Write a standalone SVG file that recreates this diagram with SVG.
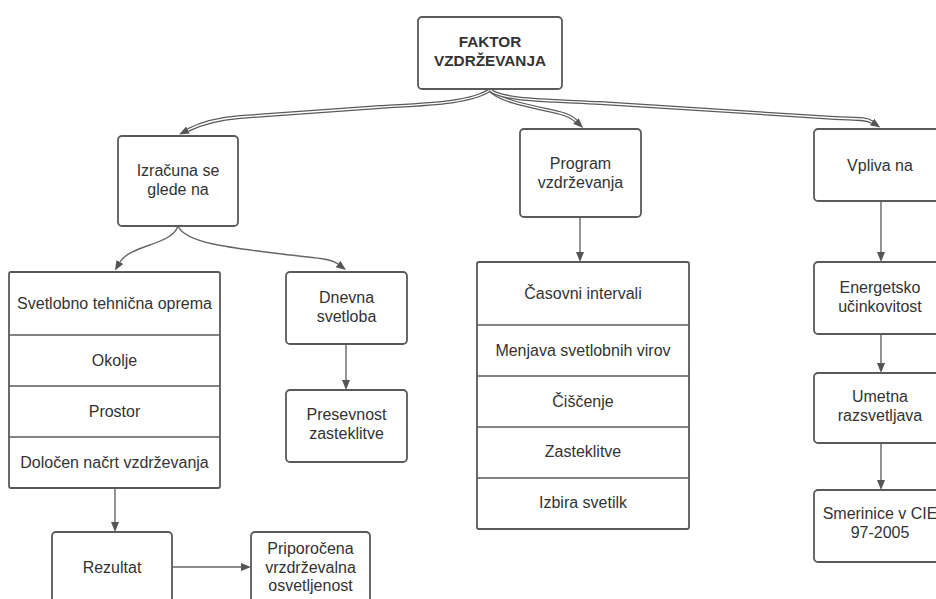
<svg xmlns="http://www.w3.org/2000/svg" width="936" height="599" viewBox="0 0 936 599">
  <style>
    .box { fill: #ffffff; stroke: #5a5a5a; stroke-width: 1.8; }
    .div { stroke: #5a5a5a; stroke-width: 1.5; fill: none; }
    .t { font-family: "Liberation Sans", Arial, sans-serif; font-size: 16px; fill: #333333; text-anchor: middle; }
    .tb { font-family: "Liberation Sans", Arial, sans-serif; font-size: 15.3px; font-weight: bold; fill: #333333; text-anchor: middle; }
    .line { fill: none; stroke: #666666; stroke-width: 1.4; }
    .dbl-out { fill: none; stroke: #5a5a5a; stroke-width: 3.8; }
    .dbl-in { fill: none; stroke: #ffffff; stroke-width: 1.3; }
  </style>
  <defs>
    <marker id="ah" markerUnits="userSpaceOnUse" markerWidth="12" markerHeight="10" refX="0" refY="4" orient="auto">
      <path d="M0,0 L10,4 L0,8 z" fill="#555555"/>
    </marker>
  </defs>
  <rect width="936" height="599" fill="#ffffff"/>

  <g id="connectors">
    <!-- double (hollow) lines leaving the root -->
    <path class="dbl-out" marker-end="url(#ah)" d="M490,90 C470,103 430,104 380,107 L240,117 C215,119 200,124 188,130"/>
    <path class="dbl-in" d="M490,90 C470,103 430,104 380,107 L240,117 C215,119 200,124 188,130"/>
    <path class="dbl-out" marker-end="url(#ah)" d="M490,90 C500,102 540,108 560,113 C568,115 572,117 576,121"/>
    <path class="dbl-in" d="M490,90 C500,102 540,108 560,113 C568,115 572,117 576,121"/>
    <path class="dbl-out" marker-end="url(#ah)" d="M490,90 C502,100 540,100 600,103 L835,118 C855,119 866,118 872,122"/>
    <path class="dbl-in" d="M490,90 C502,100 540,100 600,103 L835,118 C855,119 866,118 872,122"/>

    <!-- single lines -->
    <path class="line" marker-end="url(#ah)" d="M178,226 C172,245 130,245 120,262"/>
    <path class="line" marker-end="url(#ah)" d="M178,226 C185,243 230,248 290,255 C315,258 330,258 338,264"/>
    <path class="line" marker-end="url(#ah)" d="M346,344 L346,380"/>
    <path class="line" marker-end="url(#ah)" d="M580,217 L580,252"/>
    <path class="line" marker-end="url(#ah)" d="M881,201 L881,252"/>
    <path class="line" marker-end="url(#ah)" d="M881,334 L881,363"/>
    <path class="line" marker-end="url(#ah)" d="M881,443 L881,480"/>
    <path class="line" marker-end="url(#ah)" d="M115,488 L115,522"/>
    <path class="line" marker-end="url(#ah)" d="M172,567 L241,567"/>
  </g>

  <g id="faktor">
    <rect class="box" x="418" y="17" width="144" height="72" rx="4"/>
    <text class="tb" x="490" y="46.5">FAKTOR</text>
    <text class="tb" x="490" y="65.5">VZDRŽEVANJA</text>
  </g>

  <g id="izracuna">
    <rect class="box" x="118" y="136" width="120" height="90" rx="4"/>
    <text class="t" x="178" y="176">Izračuna se</text>
    <text class="t" x="178" y="195">glede na</text>
  </g>

  <g id="program">
    <rect class="box" x="520" y="129" width="121" height="88" rx="4"/>
    <text class="t" x="580.5" y="169">Program</text>
    <text class="t" x="580.5" y="188">vzdrževanja</text>
  </g>

  <g id="vpliva">
    <rect class="box" x="814" y="129" width="134" height="72" rx="4"/>
    <text class="t" x="880" y="170.5">Vpliva na</text>
  </g>

  <g id="seznam-izracun">
    <rect class="box" x="9" y="272" width="211" height="216" rx="2"/>
    <line class="div" x1="9" y1="335" x2="220" y2="335"/>
    <line class="div" x1="9" y1="386" x2="220" y2="386"/>
    <line class="div" x1="9" y1="437" x2="220" y2="437"/>
    <text class="t" x="114.5" y="308.5">Svetlobno tehnična oprema</text>
    <text class="t" x="114.5" y="365.5">Okolje</text>
    <text class="t" x="114.5" y="416.5">Prostor</text>
    <text class="t" x="114.5" y="467.5">Določen načrt vzdrževanja</text>
  </g>

  <g id="dnevna">
    <rect class="box" x="286" y="272" width="121" height="72" rx="4"/>
    <text class="t" x="346.5" y="302.5">Dnevna</text>
    <text class="t" x="346.5" y="321.5">svetloba</text>
  </g>

  <g id="presevnost">
    <rect class="box" x="286" y="390" width="121" height="72" rx="4"/>
    <text class="t" x="346.5" y="419.5">Presevnost</text>
    <text class="t" x="346.5" y="438.5">zasteklitve</text>
  </g>

  <g id="seznam-program">
    <rect class="box" x="477" y="262" width="212" height="267" rx="2"/>
    <line class="div" x1="477" y1="325" x2="689" y2="325"/>
    <line class="div" x1="477" y1="376" x2="689" y2="376"/>
    <line class="div" x1="477" y1="427" x2="689" y2="427"/>
    <line class="div" x1="477" y1="478" x2="689" y2="478"/>
    <text class="t" x="583" y="298.5">Časovni intervali</text>
    <text class="t" x="583" y="355.5">Menjava svetlobnih virov</text>
    <text class="t" x="583" y="406.5">Čiščenje</text>
    <text class="t" x="583" y="456.5">Zasteklitve</text>
    <text class="t" x="583" y="507.5">Izbira svetilk</text>
  </g>

  <g id="energetsko">
    <rect class="box" x="814" y="262" width="134" height="72" rx="4"/>
    <text class="t" x="880" y="293">Energetsko</text>
    <text class="t" x="880" y="312">učinkovitost</text>
  </g>

  <g id="umetna">
    <rect class="box" x="814" y="373" width="134" height="70" rx="4"/>
    <text class="t" x="880" y="401.5">Umetna</text>
    <text class="t" x="880" y="420.5">razsvetljava</text>
  </g>

  <g id="smernice">
    <rect class="box" x="814" y="490" width="134" height="72" rx="4"/>
    <text class="t" x="880" y="518.5">Smerinice v CIE</text>
    <text class="t" x="880" y="538">97-2005</text>
  </g>

  <g id="rezultat">
    <rect class="box" x="52" y="532" width="120" height="72" rx="4"/>
    <text class="t" x="112" y="572.5">Rezultat</text>
  </g>

  <g id="priporocena">
    <rect class="box" x="251" y="532" width="119" height="72" rx="4"/>
    <text class="t" x="310.5" y="553.5">Priporočena</text>
    <text class="t" x="310.5" y="572.5">vrzdrževalna</text>
    <text class="t" x="310.5" y="591">osvetljenost</text>
  </g>
</svg>
